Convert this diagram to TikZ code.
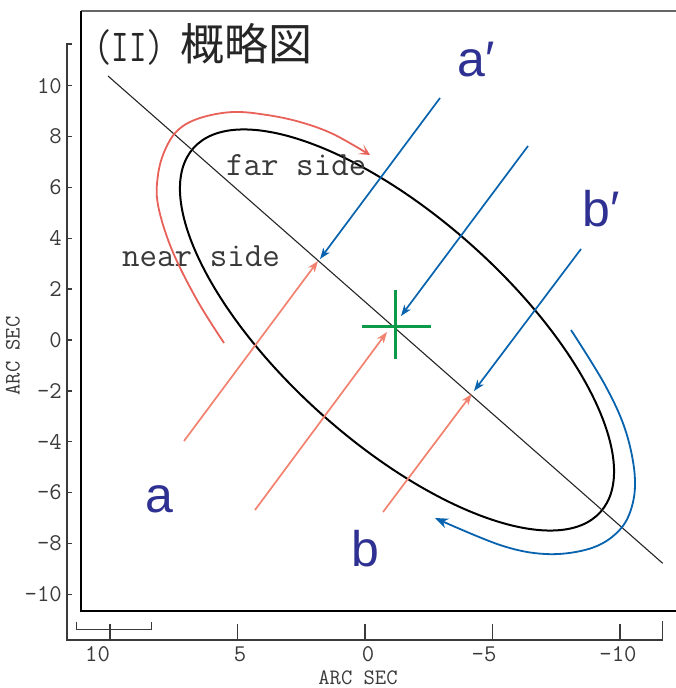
\documentclass[tikz,border=0pt]{standalone}
\usepackage{fontspec}
\usetikzlibrary{arrows.meta}
\newfontfamily\cjkf{Noto Sans CJK JP}
\newfontfamily\labf{Liberation Sans}
\definecolor{salmon}{HTML}{F2826F}
\definecolor{redc}{HTML}{E8625A}
\definecolor{bluec}{HTML}{0763AE}
\definecolor{labblue}{HTML}{2E3192}
\definecolor{greenc}{HTML}{0A9A48}
\definecolor{axisg}{HTML}{3A3A3A}
\begin{document}
\begin{tikzpicture}[x=1pt,y=-1pt,
  axisline/.style={draw=axisg, line width=1.3pt},
  framel/.style={draw=black, line width=1.4pt},
  ticklab/.style={font=\ttfamily\fontsize{24}{24}\selectfont, text=axisg, inner sep=0pt},
  axtitle/.style={font=\ttfamily\fontsize{22}{22}\selectfont, text=axisg, inner sep=0pt},
  sidelab/.style={font=\ttfamily\fontsize{34}{34}\selectfont, text=axisg, inner sep=0pt, anchor=base west},
  letlab/.style={font=\labf\fontsize{50}{50}\selectfont, text=labblue, inner sep=0pt, anchor=base},
  redarrow/.style={draw=salmon, line width=1.7pt, -{Stealth[length=11pt,width=8pt,inset=3pt]}},
  bluearrow/.style={draw=bluec, line width=1.7pt, -{Stealth[length=11pt,width=8pt,inset=3pt]}},
  redcurve/.style={draw=redc, line width=1.8pt, -{Stealth[length=11pt,width=11pt,inset=6pt]}},
  bluecurve/.style={draw=bluec, line width=1.8pt, -{Stealth[length=13pt,width=10pt,inset=4pt]}},
  crossline/.style={draw=greenc, line width=3pt},
  ellline/.style={draw=black, line width=2pt},
  diagline/.style={draw=black!85, line width=1.1pt}]
\useasboundingbox (0,0) rectangle (676,688);
\fill[white] (0,0) rectangle (676,688);

% frame
\draw[draw=black!60, line width=1.4pt] (676,11) -- (81,11);
\draw[framel] (81,11) -- (81,611) -- (676,611);

% left axis
\draw[axisline] (72,44) -- (67,44) -- (67,640) -- (663,640);
\foreach \v in {10,8,...,-10} {
  \draw[axisline] (67,{340-25.43*\v}) -- (72,{340-25.43*\v});
  \node[ticklab, anchor=east] (yl\v) at (62,{340-25.43*\v}) {\v};
}
% bottom axis
\foreach \v/\lx in {10/97.5, 5/240, 0/368, -5/484, -10/618} {
  \draw[axisline] ({365-25.5*\v},624) -- ({365-25.5*\v},640);
  \node[ticklab] (xl\v) at (\lx,654.5) {\v};
}
\draw[axisline] (662.7,621) -- (662.7,640);
\draw[axisline] (76.7,621.7) -- (76.7,629.3) -- (151.7,629.3) -- (151.7,621.7);

\node[axtitle, anchor=base] (xtitle) at (358,684) {ARC SEC};
\node[axtitle, rotate=90] (ytitle) at (13,356) {ARC SEC};

% title
\node[font=\ttfamily\fontsize{34}{34}\selectfont, inner sep=0pt, anchor=base west, text=black!85] (t1) at (94,61) {\scalebox{1}[1.35]{(II)}};
\node[font=\cjkf\fontsize{44}{44}\selectfont, inner sep=0pt, anchor=base west, text=black!85] (t2) at (180,60) {概略図};

% ellipse and diagonal line
\coordinate (E) at (397,330);
\draw[ellline, rotate around={-41.8:(E)}] (E) ellipse [x radius=273pt, y radius=113pt];
\coordinate (L1) at (108,76);
\coordinate (L2) at (662.7,563.3);
\draw[diagline] (L1) -- (L2);

% side labels
\node[sidelab] (far) at (226,175) {far side};
\node[sidelab] (near) at (122,266.7) {near side};

% curved arrows
\draw[redcurve] plot[smooth, tension=0.6] coordinates {(224,343) (197,300) (172,250) (158,205) (158,175) (165,150) (178,130) (200,118) (233,112) (267,115) (300,122) (333,134) (370,155)};
\draw[bluecurve] plot[smooth, tension=0.6] coordinates {(571,330) (605,385) (626,432) (635,480) (629,515) (612,537) (585,550) (545,554) (500,545) (435,518)};

% straight arrows
\coordinate (ra1s) at (184,441); \coordinate (ra1e) at (318,261);
\coordinate (ra2s) at (255,510); \coordinate (ra2e) at (387,332);
\coordinate (ra3s) at (383,512); \coordinate (ra3e) at (471.7,394);
\coordinate (ba1s) at (440,98);  \coordinate (ba1e) at (320,259);
\coordinate (ba2s) at (528,146); \coordinate (ba2e) at (401,316);
\coordinate (ba3s) at (581,249); \coordinate (ba3e) at (474,391);
\draw[redarrow] (ra1s) -- (ra1e);
\draw[redarrow] (ra2s) -- (ra2e);
\draw[redarrow] (ra3s) -- (ra3e);
\draw[bluearrow] (ba1s) -- (ba1e);
\draw[bluearrow] (ba2s) -- (ba2e);
\draw[bluearrow] (ba3s) -- (ba3e);

% green cross
\coordinate (C) at (395,326);
\draw[crossline] (361.7,326) -- (431,326);
\draw[crossline] (395,290) -- (395,359.3);

% letter labels
\node[letlab] (la1) at (476,76) {a′};
\node[letlab] (lb1) at (601,226) {b′};
\node[letlab] (la) at (159,512) {a};
\node[letlab] (lb) at (365,566) {b};
\end{tikzpicture}
\end{document}
